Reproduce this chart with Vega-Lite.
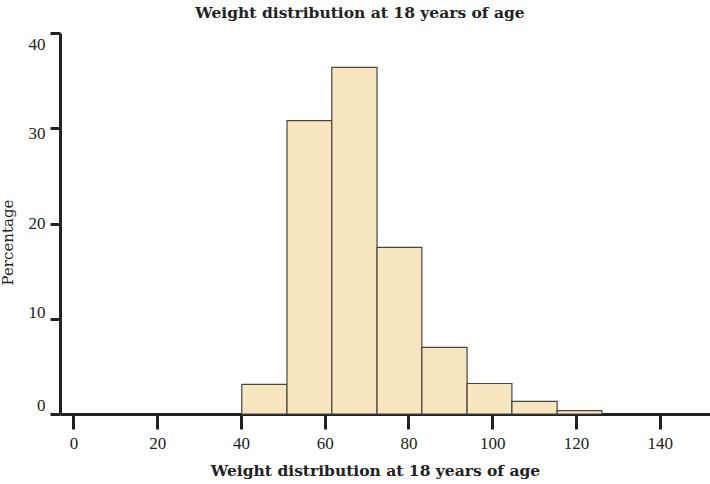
{
  "$schema": "https://vega.github.io/schema/vega-lite/v6.json",
  "width": 650,
  "height": 381,
  "autosize": {"type": "none"},
  "padding": {"left": 60, "top": 33, "right": 0, "bottom": 70},
  "background": "white",
  "title": {
    "text": "Weight distribution at 18 years of age",
    "font": "DejaVu Serif",
    "fontSize": 15.5,
    "fontWeight": "bold",
    "color": "#222222",
    "anchor": "middle",
    "dx": -25,
    "offset": 10
  },
  "data": {
    "values": [
      {"bin_start": 40.2, "bin_end": 51.0, "pct": 3.1},
      {"bin_start": 51.0, "bin_end": 61.7, "pct": 30.8},
      {"bin_start": 61.7, "bin_end": 72.5, "pct": 36.4},
      {"bin_start": 72.5, "bin_end": 83.2, "pct": 17.5},
      {"bin_start": 83.2, "bin_end": 94.0, "pct": 7.0},
      {"bin_start": 94.0, "bin_end": 104.7, "pct": 3.2},
      {"bin_start": 104.7, "bin_end": 115.5, "pct": 1.33},
      {"bin_start": 115.5, "bin_end": 126.2, "pct": 0.35}
    ]
  },
  "mark": {"type": "rect", "fill": "#F8E6C0", "stroke": "#4a4540", "strokeWidth": 1.2},
  "encoding": {
    "x": {
      "field": "bin_start",
      "type": "quantitative",
      "scale": {"domain": [-3.2, 152], "nice": false, "zero": false},
      "axis": {
        "title": "Weight distribution at 18 years of age",
        "values": [0, 20, 40, 60, 80, 100, 120, 140],
        "grid": false,
        "domainColor": "#222222",
        "domainWidth": 3,
        "tickColor": "#222222",
        "tickWidth": 3,
        "tickSize": 15,
        "labelFont": "Liberation Serif",
        "labelFontSize": 17,
        "labelColor": "#222222",
        "labelPadding": 6,
        "titleFont": "DejaVu Serif",
        "titleFontSize": 15.5,
        "titleFontWeight": "bold",
        "titleColor": "#222222",
        "titlePadding": 12,
        "titleX": 315
      }
    },
    "x2": {"field": "bin_end"},
    "y": {
      "field": "pct",
      "type": "quantitative",
      "scale": {"domain": [0, 40], "nice": false},
      "axis": {
        "title": "Percentage",
        "values": [0, 10, 20, 30, 40],
        "grid": false,
        "domainColor": "#222222",
        "domainWidth": 3,
        "tickColor": "#222222",
        "tickWidth": 3,
        "tickSize": 10,
        "labelFont": "Liberation Serif",
        "labelFontSize": 17,
        "labelColor": "#222222",
        "labelPadding": 5,
        "labelOffset": {
          "condition": [
            {"test": "datum.value == 40", "value": 11},
            {"test": "datum.value == 30", "value": 5},
            {"test": "datum.value == 10", "value": -6},
            {"test": "datum.value == 0", "value": -9}
          ],
          "value": 0
        },
        "titleFont": "DejaVu Serif",
        "titleFontSize": 15,
        "titleFontWeight": "normal",
        "titleColor": "#222222",
        "titlePadding": 13,
        "titleY": 209
      }
    },
    "y2": {"datum": 0}
  },
  "config": {"view": {"stroke": null}}
}
